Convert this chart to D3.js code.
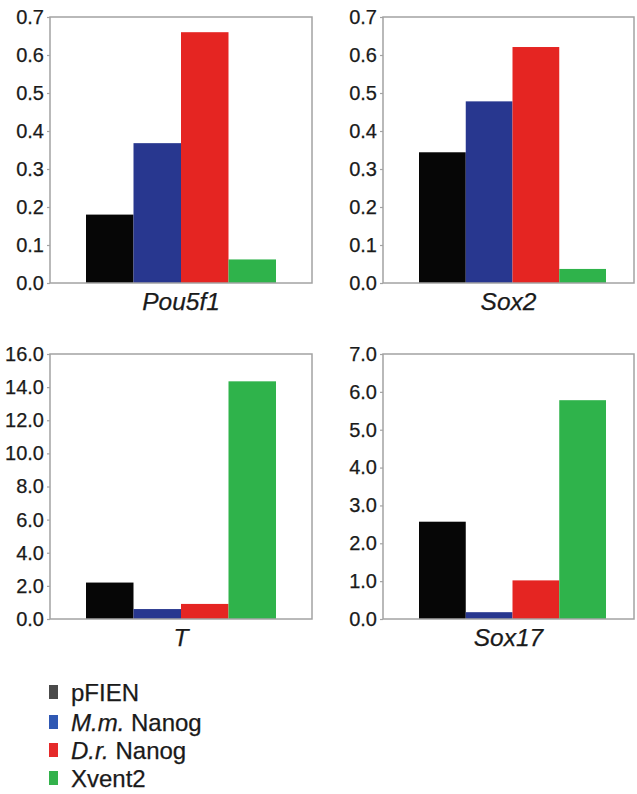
<!DOCTYPE html>
<html><head><meta charset="utf-8">
<script src="https://cdn.jsdelivr.net/npm/d3@7"></script>
<style>
html,body{margin:0;padding:0;background:#fff;}
svg{display:block;font-family:"Liberation Sans",Arial,Helvetica,sans-serif;}
</style></head>
<body>
<script>
// ---- data ----
const series = ["pFIEN", "M.m. Nanog", "D.r. Nanog", "Xvent2"];
const genes = ["Pou5f1", "Sox2", "T", "Sox17"];
const pou5f1Values = [0.18, 0.368, 0.66, 0.062];
const sox2Values = [0.344, 0.478, 0.621, 0.037];
const tValues = [2.2, 0.6, 0.91, 14.35];
const sox17Values = [2.57, 0.18, 1.02, 5.78];
const yMax = [0.7, 0.7, 16, 7];
const yStep = [0.1, 0.1, 2, 1];
const legendItalic = ["", "M.m.", "D.r.", ""];
const legendRest = ["pFIEN", " Nanog", " Nanog", "Xvent2"];

// ---- styles ----
const barColors = ["#060606", "#28378f", "#e52522", "#2fb34b"];
const legendColors = ["#4a4a4a", "#2f58b3", "#e52a2a", "#33b24c"];
const frameColor = "#a3a3a3";
const textColor = "#1a1a1a";

const W = 637, H = 794;
const svg = d3.select("body").append("svg").attr("width", W).attr("height", H);

const panels = [
  {values: pou5f1Values, x0: 50, x1: 312, y0: 17, y1: 283, bx0: 86, bx1: 276},
  {values: sox2Values,   x0: 383, x1: 634, y0: 17, y1: 283, bx0: 419, bx1: 606},
  {values: tValues,      x0: 50, x1: 312, y0: 354, y1: 619, bx0: 86, bx1: 276},
  {values: sox17Values,  x0: 383, x1: 634, y0: 354, y1: 619, bx0: 419, bx1: 606}
];

panels.forEach((p, i) => {
  const g = svg.append("g");
  const y = d3.scaleLinear().domain([0, yMax[i]]).range([p.y1, p.y0]);
  const x = d3.scaleBand().domain(series).range([p.bx0, p.bx1]).paddingInner(0).paddingOuter(0);
  const ticks = d3.range(0, yMax[i] + yStep[i] / 2, yStep[i]);

  // bars
  g.selectAll("rect.bar").data(p.values).join("rect")
    .attr("class", "bar")
    .attr("x", (d, j) => x(series[j]))
    .attr("width", x.bandwidth())
    .attr("y", d => y(d))
    .attr("height", d => y(0) - y(d))
    .attr("fill", (d, j) => barColors[j]);

  // frame
  g.append("rect")
    .attr("x", p.x0).attr("y", p.y0)
    .attr("width", p.x1 - p.x0).attr("height", p.y1 - p.y0)
    .attr("fill", "none").attr("stroke", frameColor).attr("stroke-width", 1.5);

  // y axis
  const ax = g.append("g").attr("transform", `translate(${p.x0},0)`)
    .call(d3.axisLeft(y).tickValues(ticks).tickFormat(d3.format(".1f")).tickSize(3).tickPadding(3));
  ax.select(".domain").remove();
  ax.selectAll(".tick line").attr("stroke", frameColor).attr("stroke-width", 1.2);
  ax.selectAll(".tick text")
    .attr("fill", textColor)
    .attr("stroke", textColor).attr("stroke-width", 0.25)
    .style("font-size", "20px")
    .style("font-family", "'Liberation Sans', Arial, sans-serif");

  // gene label
  g.append("text")
    .attr("x", (p.x0 + p.x1) / 2)
    .attr("y", p.y1 + 27)
    .attr("text-anchor", "middle")
    .attr("fill", textColor)
    .attr("stroke", textColor).attr("stroke-width", 0.25)
    .style("font-size", "24.5px")
    .style("font-style", "italic")
    .text(genes[i]);
});

// legend
const lg = svg.append("g");
const rowY = [692, 722, 750, 778];
series.forEach((s, j) => {
  lg.append("rect")
    .attr("x", 49).attr("y", rowY[j] - 7)
    .attr("width", 9).attr("height", 14)
    .attr("fill", legendColors[j]);
  const t = lg.append("text")
    .attr("x", 71).attr("y", rowY[j] + 9)
    .attr("fill", textColor)
    .attr("stroke", textColor).attr("stroke-width", 0.25)
    .style("font-size", "24px");
  if (legendItalic[j]) t.append("tspan").style("font-style", "italic").text(legendItalic[j]);
  t.append("tspan").text(legendRest[j]);
});
</script>
</body></html>
